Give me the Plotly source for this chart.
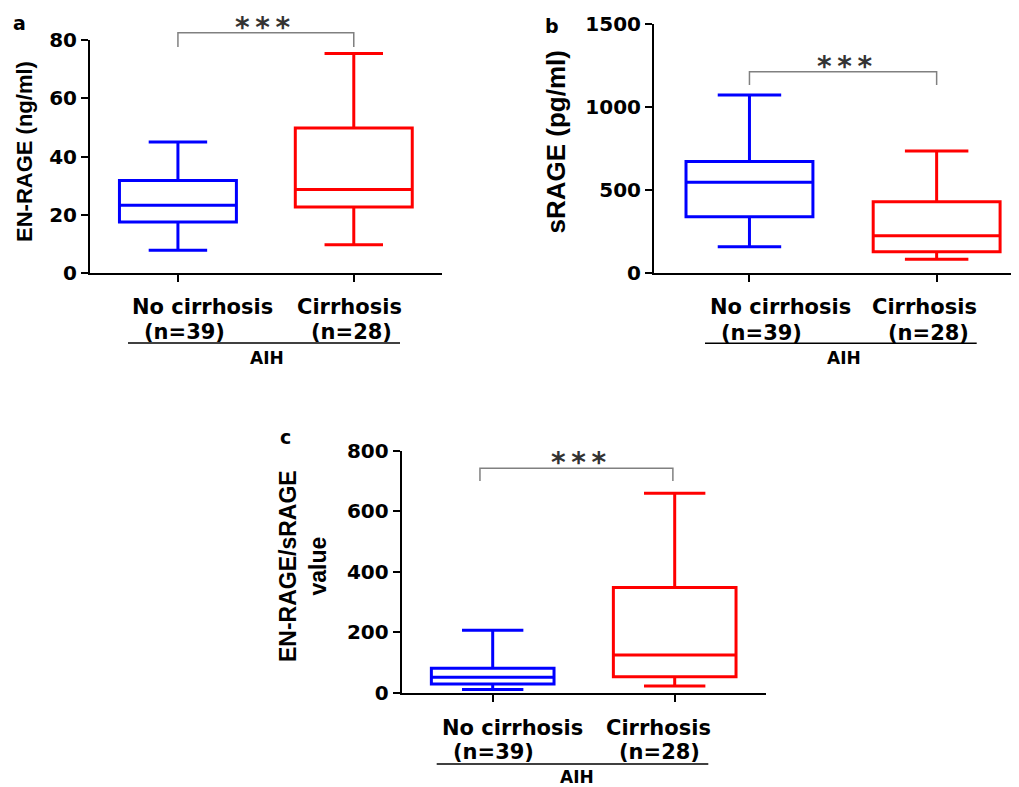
import plotly.graph_objects as go

# The page body has an 8px margin, so the figure is drawn from page pixel (8, 8).
OFF = 8
W, H = 1019 - OFF, 787 - OFF

# ---------------- data ----------------
categories = ["No cirrhosis", "Cirrhosis"]
n_counts = [39, 28]
group_label = "AIH"
colors = ["#0000FF", "#FF0000"]
panel_letters = ["a", "b", "c"]
y_titles = ["EN-RAGE (ng/ml)", "sRAGE (pg/ml)", "EN-RAGE/sRAGE<br>value"]
y_tickvals = [[0, 20, 40, 60, 80], [0, 500, 1000, 1500], [0, 200, 400, 600, 800]]
y_ranges = [[0, 80], [0, 1500], [0, 800]]
significance = ["*\u2009*\u2009*", "*\u2009*\u2009*", "*\u2009*\u2009*"]

enrage_lower = [7.9, 9.8]
enrage_q1 = [17.6, 22.7]
enrage_median = [23.3, 28.7]
enrage_q3 = [31.8, 49.8]
enrage_upper = [45.0, 75.4]

srage_lower = [157, 81]
srage_q1 = [338, 127]
srage_median = [545, 223]
srage_q3 = [670, 428]
srage_upper = [1072, 734]

ratio_lower = [11, 22]
ratio_q1 = [29, 53]
ratio_median = [51, 125]
ratio_q3 = [81, 348]
ratio_upper = [207, 660]

stats = [
    (enrage_lower, enrage_q1, enrage_median, enrage_q3, enrage_upper),
    (srage_lower, srage_q1, srage_median, srage_q3, srage_upper),
    (ratio_lower, ratio_q1, ratio_median, ratio_q3, ratio_upper),
]


def px(x):
    return (x - OFF) / W


def py(y):
    return 1 - (y - OFF) / H


# layout geometry per panel (page pixels)
panels = [
    dict(xd=(90, 441.7), yd=(40, 273.3), xr=[-0.5, 1.5], bw=0.665,
         letter=(19, 23), ytitle=(24, 152, 22),
         lab1=[(202, 307.5), (349, 307.5)], lab2=[(184, 332), (351, 332)],
         uline=(128, 400, 343), aih=(267, 357.5),
         br=(0, 1, 32.7, 47), stars=(0.48, 28)),
    dict(xd=(654, 1019), yd=(24, 272.7), xr=[-0.51, 1.44], bw=0.678,
         letter=(551.5, 26), ytitle=(555, 142.5, 26),
         lab1=[(780, 307.5), (924, 307.5)], lab2=[(761, 333), (928, 333)],
         uline=(705, 976.7, 343.3), aih=(844, 358),
         br=(0, 1, 71.7, 85), stars=(0.51, 66)),
    dict(xd=(401.7, 765.7), yd=(451, 692.7), xr=[-0.5, 1.5], bw=0.674,
         letter=(285, 436.5), ytitle=(302.5, 566.5, 23),
         lab1=[(512.5, 728), (658, 728)], lab2=[(493, 751.7), (659, 751.7)],
         uline=(436.7, 708.3, 764), aih=(576.7, 777),
         br=(-0.07, 0.99, 468.3, 481), stars=(0.47, 462.5)),
]

fig = go.Figure()
annotations = []
shapes = []
bold = dict(family="DejaVu Sans", weight="bold", color="black")


def note(text, x, y, font, xref="paper", **kw):
    d = dict(text=text, x=x, y=y, xref=xref, yref="paper", showarrow=False,
             xanchor="center", yanchor="middle", font=font)
    d.update(kw)
    return d


for p_i, (pan, st) in enumerate(zip(panels, stats)):
    ax = "" if p_i == 0 else str(p_i + 1)
    lo, q1, med, q3, up = st
    for c_i, cat in enumerate(categories):
        fig.add_trace(go.Box(
            x=[cat], lowerfence=[lo[c_i]], q1=[q1[c_i]], median=[med[c_i]],
            q3=[q3[c_i]], upperfence=[up[c_i]],
            width=pan["bw"], whiskerwidth=0.5, boxpoints=False,
            line=dict(color=colors[c_i], width=3), fillcolor="rgba(255,255,255,0)",
            xaxis="x" + ax, yaxis="y" + ax, showlegend=False,
        ))
    fig.update_layout(**{
        "xaxis" + ax: dict(
            domain=[px(pan["xd"][0]), min(1.0, px(pan["xd"][1]))], anchor="y" + ax,
            type="category", categoryorder="array", categoryarray=categories,
            range=pan["xr"], showline=True, linecolor="black", linewidth=2,
            ticks="outside", ticklen=7, tickwidth=2, tickcolor="black",
            showticklabels=False, showgrid=False, zeroline=False, fixedrange=True,
            automargin=False),
        "yaxis" + ax: dict(
            domain=[py(pan["yd"][1]), py(pan["yd"][0])], anchor="x" + ax,
            range=y_ranges[p_i], tickvals=y_tickvals[p_i],
            showline=True, linecolor="black", linewidth=2,
            ticks="outside", ticklen=7, tickwidth=2, tickcolor="black",
            tickfont=dict(size=20, **bold), showgrid=False, zeroline=False,
            fixedrange=True, automargin=False),
    })
    annotations.append(note(panel_letters[p_i], px(pan["letter"][0]), py(pan["letter"][1]),
                            dict(size=19, **bold)))
    tx, ty, ts = pan["ytitle"]
    annotations.append(note(y_titles[p_i], px(tx), py(ty),
                            dict(family="Liberation Sans", weight="bold", size=ts, color="black"),
                            textangle=-90))
    for c_i, cat in enumerate(categories):
        annotations.append(note(cat, px(pan["lab1"][c_i][0]), py(pan["lab1"][c_i][1]),
                                dict(size=21, **bold)))
        annotations.append(note(f"(n={n_counts[c_i]})", px(pan["lab2"][c_i][0]),
                                py(pan["lab2"][c_i][1]), dict(size=21, **bold)))
    ux0, ux1, uy = pan["uline"]
    shapes.append(dict(type="line", xref="paper", yref="paper", x0=px(ux0), x1=px(ux1),
                       y0=py(uy), y1=py(uy), line=dict(color="black", width=1.5)))
    annotations.append(note(group_label, px(pan["aih"][0]), py(pan["aih"][1]),
                            dict(size=17, **bold)))
    bx0, bx1, by_top, by_bot = pan["br"]
    xr = "x" + ax
    shapes.append(dict(type="path", xref=xr, yref="paper",
                       path=f"M {bx0},{py(by_bot)} L {bx0},{py(by_top)} L {bx1},{py(by_top)} L {bx1},{py(by_bot)}",
                       line=dict(color="#808080", width=1.5)))
    sx, sy = pan["stars"]
    annotations.append(note(significance[p_i], sx, py(sy),
                            dict(family="DejaVu Sans", weight="bold", size=28, color="#333333"),
                            xref=xr))

fig.update_layout(
    width=W, height=H, margin=dict(l=0, r=0, t=0, b=0, autoexpand=False),
    paper_bgcolor="white", plot_bgcolor="white", boxmode="overlay",
    annotations=annotations, shapes=shapes, showlegend=False,
)

fig.write_html("out.html")
